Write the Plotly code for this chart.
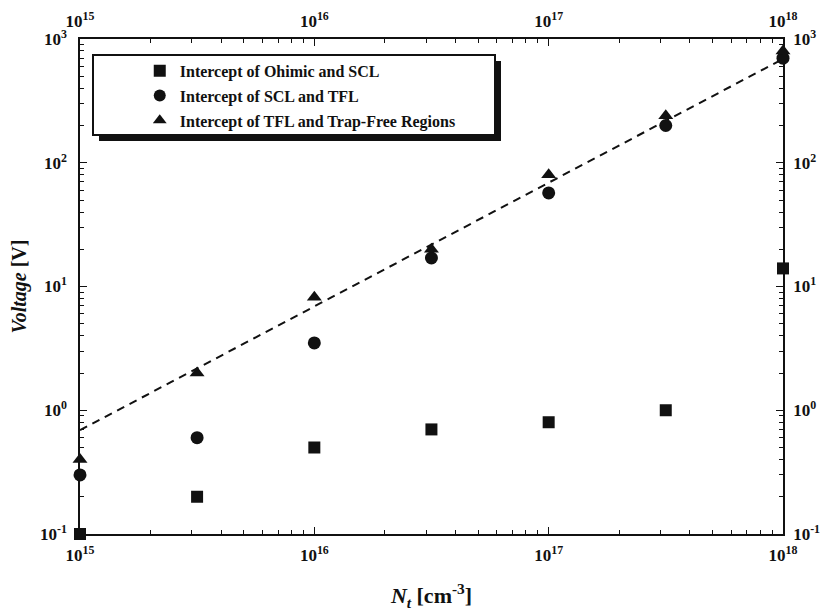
import plotly.graph_objects as go

# Trap density values (cm^-3) at which the intercept voltages were extracted
n_t = [1e15, 3.16e15, 1e16, 3.16e16, 1e17, 3.16e17, 1e18]

# Intercept voltages (V)
v_ohmic_scl = [0.1, 0.2, 0.5, 0.7, 0.8, 1.0, 14]
v_scl_tfl = [0.3, 0.6, 3.5, 17, 57, 200, 700]
v_tfl_trapfree = [0.4, 2.0, 8.2, 20, 80, 240, 800]

# Linear (slope 1 in log-log) guide line
fit_n = [1e15, 1e18]
fit_v = [0.69, 690]

series_names = [
    "Intercept of Ohimic and SCL",
    "Intercept of SCL and TFL",
    "Intercept of TFL and Trap-Free Regions",
]

# Decade ticks and their labels
x_decades = [15, 16, 17, 18]
y_decades = [-1, 0, 1, 2, 3]

FONT = "Liberation Serif"
BLACK = "#111111"


def decade_labels(exps):
    return [f"10<sup>{e}</sup>" for e in exps]


def minor_vals(exps):
    return [m * 10.0 ** e for e in exps[:-1] for m in range(2, 10)]


fig = go.Figure()

fig.add_trace(go.Scatter(
    x=fit_n, y=fit_v, mode="lines",
    line=dict(color=BLACK, width=2, dash="8px,6px"),
    showlegend=False, hoverinfo="skip",
))

symbols = ["square", "circle", "triangle-up"]
sizes = [12, 13, 13]
for i, (name, vals, sym, sz) in enumerate(zip(
        series_names, [v_ohmic_scl, v_scl_tfl, v_tfl_trapfree], symbols, sizes)):
    fig.add_trace(go.Scatter(
        x=n_t, y=vals, mode="markers", name=name, legendgroup=f"g{i}",
        marker=dict(symbol=sym, size=sz, color=BLACK),
        cliponaxis=False,
    ))

# Empty traces so the mirrored / minor-tick overlay axes get drawn
for xa, ya in [("x2", "y2"), ("x3", "y3"), ("x4", "y4")]:
    fig.add_trace(go.Scatter(x=[], y=[], xaxis=xa, yaxis=ya,
                             showlegend=False, hoverinfo="skip"))

tick_font = dict(family=FONT, size=17, color=BLACK, weight="bold")

# small padding keeps edge points inside the range test
x_range = [15 - 1e-6, 18 + 1e-6]
y_range = [-1 - 1e-6, 3 + 1e-6]

major_style = dict(
    type="log", tickmode="array", automargin=False,
    showline=True, linecolor=BLACK, linewidth=1.5,
    ticks="inside", ticklen=7, tickwidth=1.2, tickcolor=BLACK,
    showgrid=False, zeroline=False, tickfont=tick_font,
)
minor_style = dict(
    type="log", tickmode="array", showticklabels=False, automargin=False,
    showline=False, ticks="inside", ticklen=4, tickwidth=1.2, tickcolor=BLACK,
    showgrid=False, zeroline=False,
)

x_major = dict(range=x_range, tickvals=[10.0 ** e for e in x_decades],
               ticktext=decade_labels(x_decades), **major_style)
y_major = dict(range=y_range, tickvals=[10.0 ** e for e in y_decades],
               ticktext=decade_labels(y_decades), **major_style)
x_minor = dict(range=x_range, tickvals=minor_vals(x_decades), **minor_style)
y_minor = dict(range=y_range, tickvals=minor_vals(y_decades), **minor_style)

fig.update_layout(
    width=822, height=611,
    margin=dict(l=80, r=39, t=39, b=77),
    paper_bgcolor="white", plot_bgcolor="white",
    font=dict(family=FONT, color=BLACK),
    xaxis=dict(title=dict(
        text="<i>N</i><sub><i>t</i></sub> [cm<sup>-3</sup>]",
        font=dict(family=FONT, size=22, color=BLACK, weight="bold"),
        standoff=24), ticklabelstandoff=5, **x_major),
    yaxis=dict(title=dict(
        text="<i>Voltage</i> [V]",
        font=dict(family=FONT, size=20, color=BLACK, weight="bold"),
        standoff=8), ticklabelstandoff=8, **y_major),
    xaxis2=dict(overlaying="x", side="top", anchor="y",
                ticklabelstandoff=3, **x_major),
    yaxis2=dict(overlaying="y", side="right", anchor="x",
                ticklabelstandoff=5, **y_major),
    xaxis3=dict(overlaying="x", side="bottom", anchor="y", **x_minor),
    xaxis4=dict(overlaying="x", side="top", anchor="y", **x_minor),
    yaxis3=dict(overlaying="y", side="left", anchor="x", **y_minor),
    yaxis4=dict(overlaying="y", side="right", anchor="x", **y_minor),
    legend=dict(
        x=0.085, y=0.97, xanchor="left", yanchor="top",
        bgcolor="rgba(0,0,0,0)", borderwidth=0,
        font=dict(family=FONT, size=16, color=BLACK, weight="bold"),
        itemsizing="constant", tracegroupgap=1,
    ),
    shapes=[
        # legend drop shadow
        dict(type="rect", xref="paper", yref="paper",
             x0=(99 - 80) / 703, x1=(501 - 80) / 703,
             y0=(534 - 141) / 495, y1=(534 - 61) / 495,
             fillcolor=BLACK, line=dict(width=0), layer="above"),
        # legend frame
        dict(type="rect", xref="paper", yref="paper",
             x0=(93 - 80) / 703, x1=(495 - 80) / 703,
             y0=(534 - 135) / 495, y1=(534 - 55) / 495,
             fillcolor="white", line=dict(color=BLACK, width=2),
             layer="above"),
    ],
)

fig.write_html("out.html")
